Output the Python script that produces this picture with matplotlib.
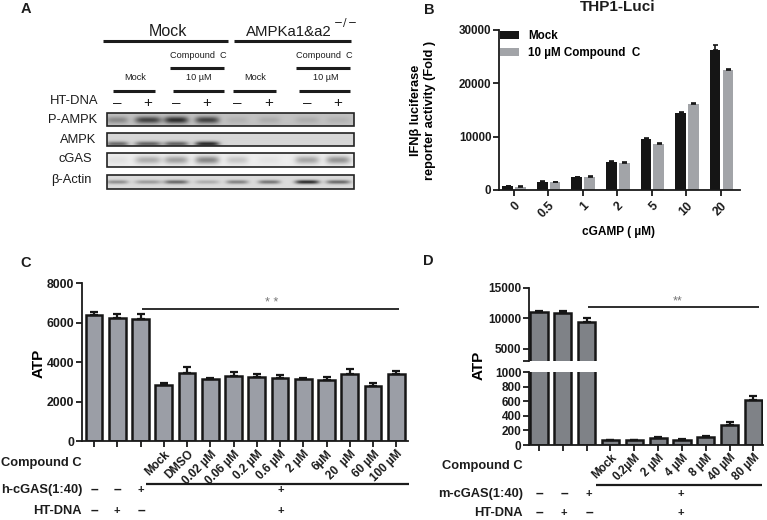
import numpy as np
import matplotlib
matplotlib.use('Agg')
import matplotlib.pyplot as plt

plt.rcParams['font.family'] = ['Liberation Sans', 'DejaVu Sans']

W, H = 767, 520

# panel B
doses = ['0', '0.5', '1', '2', '5', '10', '20']
mock_vals = [690, 1560, 2440, 5310, 9625, 14375, 26250]
mock_err = [60, 60, 60, 100, 100, 200, 900]
cc_vals = [625, 1440, 2500, 5125, 8690, 16125, 22500]
cc_err = [100, 100, 100, 150, 120, 200, 150]

# panel C
c_labels = ['', '', '', 'Mock', 'DMSO', '0.02 µM', '0.06 µM', '0.2 µM', '0.6 µM', '2 µM', '6µM', '20  µM', '60 µM', '100 µM']
c_vals = [6380, 6230, 6210, 2870, 3460, 3157, 3310, 3258, 3224, 3140, 3090, 3410, 2800, 3390]
c_err = [150, 220, 240, 80, 300, 50, 220, 150, 150, 50, 180, 230, 170, 150]

# panel D
d_labels = ['', '', '', 'Mock', '0.2µM', '2 µM', '4 µM', '8 µM', '40 µM', '80 µM']
d_vals = [10930, 10900, 9290, 64, 64, 96, 69, 115, 280, 620]
d_err = [250, 200, 700, 8, 8, 8, 8, 12, 35, 50]

# panel A, band strength per lane (0 = none)
lanes = [117, 148, 176, 207, 237, 269, 307, 338]
lane_w = [11, 13, 12, 12, 11, 11, 12, 12]
p_ampk = [0.22, 0.50, 0.58, 0.50, 0.06, 0.08, 0.08, 0.06]
ampk = [0.42, 0.45, 0.45, 0.68, 0.0, 0.0, 0.0, 0.0]
cgas = [0.05, 0.25, 0.30, 0.40, 0.15, 0.04, 0.28, 0.35]
actin = [0.30, 0.25, 0.45, 0.18, 0.35, 0.40, 0.70, 0.45]
blot_rows = ['P-AMPK', 'AMPK', 'cGAS', 'β-Actin']


def px_axes(l, t, r, b):
    return fig.add_axes([l / W, 1 - b / H, (r - l) / W, (b - t) / H])


def style(ax, tick_size, lw=1.6):
    for s in ['top', 'right']:
        ax.spines[s].set_visible(False)
    for s in ['left', 'bottom']:
        ax.spines[s].set_linewidth(lw)
        ax.spines[s].set_color('#1a1a1a')
    ax.tick_params(width=lw, length=4, labelsize=tick_size, color='#1a1a1a', labelcolor='#1a1a1a', pad=1.5)
    for t in ax.get_yticklabels():
        t.set_fontweight('bold')


def blot(vals, top, bottom, base, band_y, band_h, left=107, right=354):
    # small grey image with a soft band per lane
    xx = np.arange(left, right, 0.5)
    yy = np.linspace(top, bottom, 40)
    X, Y = np.meshgrid(xx, yy)
    img = np.full(X.shape, base, dtype=float)
    for c, w, v in zip(lanes, lane_w, vals):
        img -= v * np.exp(-((X - c) / w) ** 4) * np.exp(-((Y - band_y) / band_h) ** 2)
    over.imshow(img, extent=[left, right, bottom, top], cmap='gray', vmin=0, vmax=1, aspect='auto', zorder=1)
    over.add_patch(plt.Rectangle((left, top), right - left, bottom - top, fill=False, ec='#222222', lw=1.2, zorder=2))


fig = plt.figure(figsize=(W / 100, H / 100), dpi=100)

# B
axb = px_axes(499, 30, 740, 190)
x = np.arange(len(doses))
axb.bar(x - 0.17, mock_vals, 0.31, color='#151515', yerr=[[0] * 7, mock_err], ecolor='#151515',
        error_kw=dict(capsize=1.8, lw=1.2, capthick=1.2), label='Mock')
axb.bar(x + 0.2, cc_vals, 0.31, color='#a2a4a8', yerr=[[0] * 7, cc_err], ecolor='#151515',
        error_kw=dict(capsize=1.8, lw=1.2, capthick=1.2), label='10 µM Compound  C')
axb.set_xlim(-0.42, 6.55)
axb.set_ylim(0, 30000)
axb.set_yticks([0, 10000, 20000, 30000])
axb.set_xticks(x)
axb.set_xticklabels(doses, rotation=45, ha='right', rotation_mode='anchor', fontweight='bold')
style(axb, 8.4, 1.3)
axb.tick_params(axis='x', labelsize=8.8, pad=3)
axb.set_xlabel('cGAMP ( µM)', fontweight='bold', fontsize=8.6)
axb.xaxis.set_label_coords((618 - 499) / 241, -(232 - 190) / 160, transform=axb.transAxes)
axb.xaxis.label.set_va('center')
axb.set_ylabel('IFNβ luciferase\nreporter activity (Fold )', fontweight='bold', fontsize=9.2, linespacing=1.3)
axb.yaxis.set_label_coords((423 - 499) / 241, 0.5)
axb.yaxis.label.set_va('center')
axb.legend(loc='upper left', bbox_to_anchor=(0.004, 1.0), frameon=False, handlelength=1.65,
           handleheight=0.7, handletextpad=0.77, labelspacing=0.45, borderaxespad=0, borderpad=0,
           prop=dict(weight='bold', size=8.4))

# C
axc = px_axes(82, 283.3, 408, 441.3)
xc = np.arange(len(c_vals))
axc.bar(xc, c_vals, 0.72, color='#9b9ea6', edgecolor='#161616', linewidth=1.8, yerr=[[0] * 14, c_err],
        ecolor='#161616', error_kw=dict(capsize=2.8, lw=1.6, capthick=1.6))
axc.set_xlim(-0.52, 13.5)
axc.set_ylim(0, 8000)
axc.set_yticks([0, 2000, 4000, 6000, 8000])
axc.set_xticks(xc)
axc.set_xticklabels(c_labels, rotation=45, ha='right', rotation_mode='anchor', fontweight='bold')
style(axc, 8.8, 1.3)
axc.tick_params(axis='x', labelsize=8.4, pad=1)
axc.set_ylabel('ATP', fontweight='bold', fontsize=11)
axc.yaxis.set_label_coords((39 - 82) / 326, 0.496)
axc.yaxis.label.set_va('center')

# D, broken axis drawn from the same values
axd_top = px_axes(529, 287.7, 763, 360.7)
axd = px_axes(529, 372.3, 763, 445)
xd = np.arange(len(d_vals))
for a in [axd_top, axd]:
    a.bar(xd, d_vals, 0.72, color='#7f8287', edgecolor='#161616', linewidth=1.8, yerr=[[0] * 10, d_err],
          ecolor='#161616', error_kw=dict(capsize=2.8, lw=1.6, capthick=1.6))
    a.set_xlim(-0.42, 9.4)
axd_top.set_ylim(3000, 15000)
axd_top.set_yticks([3000, 5000, 10000, 15000])
axd_top.set_yticklabels(['', '5000', '10000', '15000'])
axd_top.set_xticks([])
style(axd_top, 8.5, 1.3)
axd_top.spines['bottom'].set_visible(False)
axd.set_ylim(0, 1000)
axd.set_yticks([0, 200, 400, 600, 800, 1000])
axd.set_xticks(xd)
axd.set_xticklabels(d_labels, rotation=45, ha='right', rotation_mode='anchor', fontweight='bold')
style(axd, 8.5, 1.3)
axd.tick_params(axis='x', labelsize=8.4, pad=1)
axd.set_ylabel('ATP', fontweight='bold', fontsize=11)
axd.yaxis.set_label_coords((479 - 529) / 234, 1.09)
axd.yaxis.label.set_va('center')

# pixel overlay for panel A and the annotations
over = fig.add_axes([0, 0, 1, 1], zorder=10)
over.patch.set_alpha(0)
over.axis('off')

blot(p_ampk, 113, 126, 0.76, 120, 3.5)
blot(ampk, 133, 146, 0.84, 144, 2.5)
blot(cgas, 153, 167, 0.93, 160, 4)
blot(actin, 175, 189, 0.86, 182, 2)
over.set_xlim(0, W)
over.set_ylim(H, 0)

dark = '#1c1c1c'


def t(px, py, s, size, weight='normal', ha='center', color=dark, **kw):
    over.text(px, py, s, fontsize=size, fontweight=weight, ha=ha, va='center', color=color, **kw)


def hline(x0, x1, y, lw=1.6, zorder=5):
    over.plot([x0, x1], [y, y], color=dark, lw=lw, solid_capstyle='butt', zorder=zorder)


for s, px, py in [('A', 26, 9), ('B', 429, 10), ('C', 26, 263), ('D', 428, 261)]:
    t(px, py, s, 10.5, 'bold')
t(618, 7, 'THP1-Luci', 11, 'bold')

# panel A labels
t(168, 31, 'Mock', 11.5)
t(289, 32, 'AMPKa1&a2', 10.8)
t(345, 27, '$^{-/-}$', 11)
hline(103, 228, 41, 2.2)
hline(234, 351, 41, 2.2)
t(198, 55, 'Compound  C', 6.6)
t(324, 55, 'Compound  C', 6.6)
hline(170, 224, 68, 2.2)
hline(296, 350, 68, 2.2)
t(135, 77, 'Mock', 6.6)
t(255, 77, 'Mock', 6.6)
t(199, 78, '10 µM', 6.6)
t(326, 78, '10 µM', 6.6)
for x0, x1 in [(113, 155), (173, 224), (233, 276), (299, 350)]:
    hline(x0, x1, 91, 2.2)
t(98, 101, 'HT-DNA', 9.4, ha='right')
for px, s in zip(lanes, ['–', '+', '–', '+', '–', '+', '–', '+']):
    t(px, 103.5, s, 11)
for s, px, py in zip(blot_rows, [97, 96, 92, 92], [120, 140, 159, 180]):
    t(px, py, s, 9.3, ha='right')

# panel C annotations
over.add_patch(plt.Rectangle((146, 484.5), 263, 30, color='white', zorder=4))
hline(142, 399, 308.7, 1.3)
t(272, 303, '* *', 9, color='#777777')
hline(146, 409, 484, 1.6)
t(82, 463, 'Compound C', 9.3, 'bold', ha='right')
t(82, 490, 'h-cGAS(1:40)', 9.3, 'bold', ha='right')
t(82, 511, 'HT-DNA', 9.3, 'bold', ha='right')
for px, a, b in zip([94, 117, 141], ['–', '–', '+'], ['–', '+', '–']):
    t(px, 490, a, 10 if a == '–' else 8, 'bold', zorder=6)
    t(px, 511, b, 10 if b == '–' else 8, 'bold', zorder=6)
t(281, 490, '+', 8, 'bold', zorder=6)
t(281, 511, '+', 8, 'bold', zorder=6)

# panel D annotations
over.add_patch(plt.Rectangle((596, 485.5), 167, 30, color='white', zorder=4))
hline(588, 759, 307, 1.3)
t(678, 301, '**', 9, color='#777777')
hline(596, 762, 485, 1.6)
t(523, 466, 'Compound C', 9.3, 'bold', ha='right')
t(523, 494, 'm-cGAS(1:40)', 9.3, 'bold', ha='right')
t(523, 513, 'HT-DNA', 9.3, 'bold', ha='right')
for px, a, b in zip([539, 564, 589], ['–', '–', '+'], ['–', '+', '–']):
    t(px, 494, a, 10 if a == '–' else 8, 'bold', zorder=6)
    t(px, 513, b, 10 if b == '–' else 8, 'bold', zorder=6)
t(681, 494, '+', 8, 'bold', zorder=6)
t(681, 513, '+', 8, 'bold', zorder=6)

fig.savefig('out.png', dpi=100)
